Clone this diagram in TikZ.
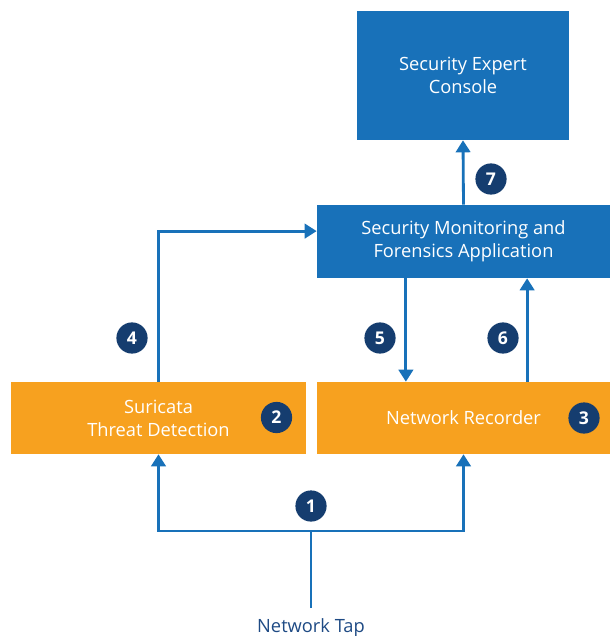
\documentclass[tikz,border=0pt]{standalone}
\usepackage{fontspec}
\setmainfont{Open Sans}
\usetikzlibrary{arrows.meta}
\definecolor{boxblue}{HTML}{1871B9}
\definecolor{boxorange}{HTML}{F7A11F}
\definecolor{stepnavy}{HTML}{153D6F}
\definecolor{tapnavy}{HTML}{1E4A84}
\begin{document}
\begin{tikzpicture}[x=0.025cm,y=-0.025cm,
    font=\fontsize{13}{16.5}\selectfont,
    bluebox/.style={rectangle,fill=boxblue,text=white,align=center,inner sep=0pt},
    orangebox/.style={rectangle,fill=boxorange,text=white,align=center,inner sep=0pt},
    stepmark/.style={circle,fill=stepnavy,text=white,minimum size=0.78cm,inner sep=0pt,font=\fontsize{12.5}{12.5}\selectfont\bfseries},
    flow/.style={draw=boxblue,line width=2pt,-{Triangle[length=0.3cm,width=0.36cm]}}]

      \useasboundingbox (0,0) rectangle (610,636);

      \node[bluebox,minimum width=5.3cm,minimum height=3.225cm] (sec) at (463,75.5){Security Expert\\Console};
      \node[bluebox,minimum width=7.325cm,minimum height=1.825cm] (smfa) at (463.5,241.5){Security Monitoring and\\Forensics Application};
      \node[orangebox,minimum width=7.375cm,minimum height=1.8cm] (sur) at (158.5,418){Suricata\\Threat Detection};
      \node[orangebox,minimum width=7.325cm,minimum height=1.8cm] (rec) at (463.5,418){Network Recorder};
      \node[text=tapnavy,anchor=north,inner ysep=0.27cm] (tap) at (311,608){Network Tap};
      \coordinate (split) at (311,531);

      \node[stepmark] (s1) at (311,506){1};
      \node[stepmark] (s2) at (276.5,417.5){2};
      \node[stepmark] (s3) at (584,418){3};
      \node[stepmark] (s4) at (132,338){4};
      \node[stepmark] (s5) at (380,338){5};
      \node[stepmark] (s6) at (503,338){6};
      \node[stepmark] (s7) at (491,179){7};

      \draw[draw=boxblue,line width=2pt] (tap.north) -- (split);
      \draw[flow] (split) -| (sur.south);
      \draw[flow] (split) -| (rec.south);
      \draw[flow] (sur.north) |- ([yshift=0.26cm]smfa.west);
      \draw[flow] ([xshift=-1.44cm]smfa.south) -- ([xshift=-1.44cm]rec.north);
      \draw[flow] ([xshift=1.59cm]rec.north) -- ([xshift=1.59cm]smfa.south);
      \draw[flow] (smfa.north) -- (sec.south);

    \end{tikzpicture}
\end{document}
